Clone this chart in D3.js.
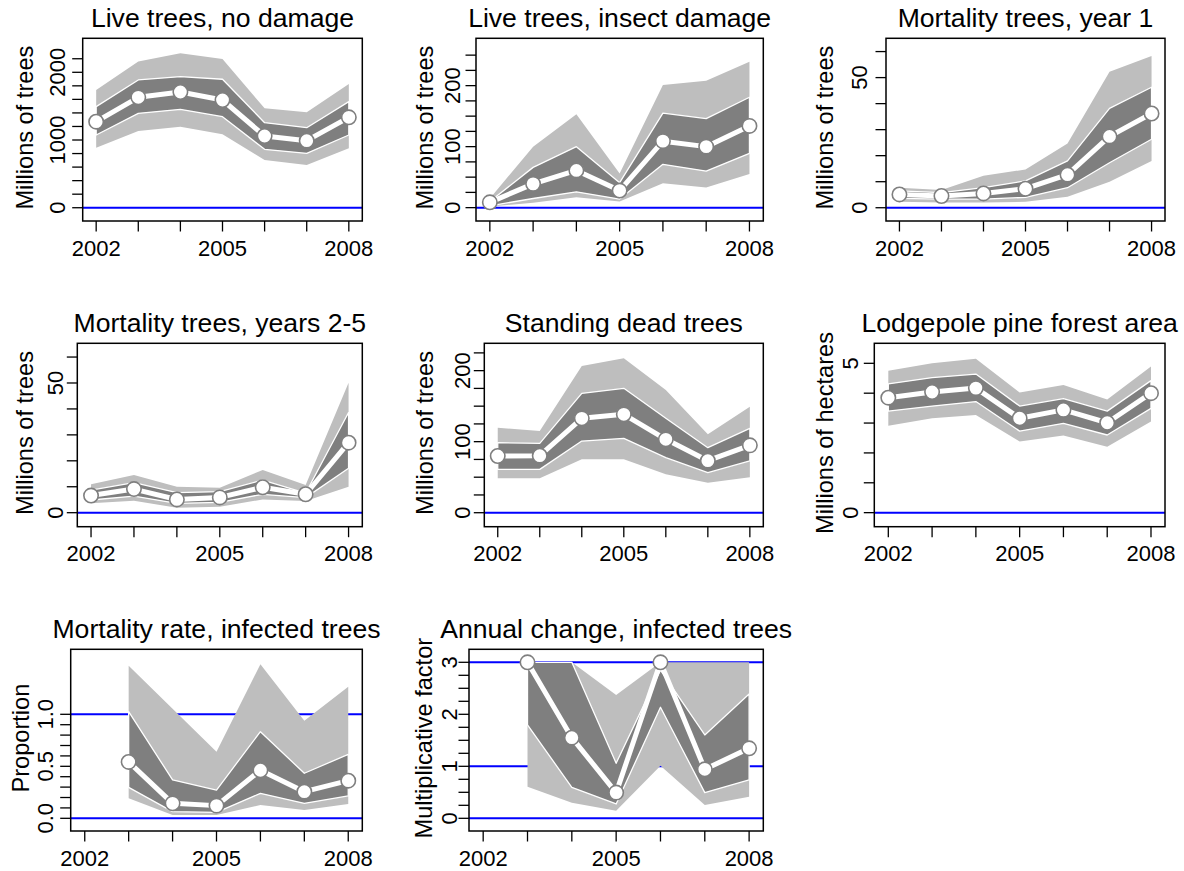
<!DOCTYPE html>
<html>

<head>
    <meta charset="utf-8">
    <script src="https://cdn.jsdelivr.net/npm/d3@7"></script>
    <style>
        body { margin: 0; background: #fff; }
        text { font-family: "Liberation Sans", Arial, Helvetica, sans-serif; fill: #000; }
    </style>
</head>

<body>
    <div id="viz"></div>

    <script>

        // years on the x axis
        var years = [2002, 2003, 2004, 2005, 2006, 2007, 2008];
        var yearLabels = [2002, 2005, 2008];

        // each row (one per year): [lower outer, lower inner, median, upper inner, upper outer]
        var liveNoDamage = [
            [887, 1074, 1271, 1493, 1739],
            [1133, 1394, 1630, 1887, 2158],
            [1197, 1453, 1709, 1936, 2281],
            [1084, 1345, 1591, 1897, 2197],
            [704, 862, 1059, 1256, 1468],
            [631, 803, 990, 1182, 1409],
            [877, 1074, 1335, 1567, 1828]
        ];
        var liveInsect = [
            [2, 3, 8.7, 10, 15],
            [8, 15, 39, 66, 100],
            [17, 26, 61, 100, 153],
            [10, 14, 28, 41, 56],
            [40, 71, 109, 155, 201],
            [33, 60, 100, 146, 208],
            [55, 89, 134, 181, 239]
        ];
        var mortYear1 = [
            [2.3, 3.6, 5.1, 6.5, 7.7],
            [2, 3.3, 4.5, 5.8, 6.8],
            [2, 3.3, 5.5, 7.7, 12.3],
            [2.3, 4, 7.3, 10.3, 14.7],
            [4.2, 7.7, 12.7, 18, 24.7],
            [10, 17.3, 27.4, 38.2, 52.2],
            [18, 26.3, 36.2, 46.3, 58.3]
        ];
        var mortYears25 = [
            [3.6, 4.9, 6.6, 8.7, 11],
            [4.6, 6.4, 9.1, 11.6, 14.5],
            [1.9, 3.6, 5.1, 7.7, 10],
            [2.3, 4, 5.9, 8.1, 9.6],
            [5.1, 7.1, 9.8, 12.6, 16.5],
            [4.5, 5.8, 7.1, 7.5, 10.7],
            [10, 17.1, 27, 38.6, 50.1]
        ];
        var standingDead = [
            [48.4, 61, 79.8, 98.6, 119.7],
            [48.4, 61, 80.3, 97.7, 115],
            [75.1, 100.9, 132.9, 168, 206.6],
            [75.1, 104.7, 138.5, 175.1, 217.4],
            [54, 77.5, 103.3, 132.9, 172.8],
            [42.3, 56.3, 73.2, 91.5, 110.3],
            [49.8, 72.8, 94.8, 118.8, 149.3]
        ];
        var forestArea = [
            [2.91, 3.40, 3.85, 4.31, 4.75],
            [3.16, 3.57, 4.04, 4.52, 5.0],
            [3.27, 3.72, 4.17, 4.64, 5.15],
            [2.38, 2.73, 3.16, 3.57, 4.02],
            [2.58, 2.99, 3.44, 3.82, 4.27],
            [2.21, 2.60, 3.01, 3.40, 3.79],
            [3.05, 3.49, 4.0, 4.42, 4.89]
        ];
        var mortRate = [
            null,
            [0.192, 0.298, 0.542, 1.026, 1.468],
            [0.032, 0.064, 0.144, 0.369, 1.054],
            [0.032, 0.058, 0.122, 0.272, 0.641],
            [0.128, 0.240, 0.462, 0.833, 1.481],
            [0.08, 0.144, 0.256, 0.433, 0.939],
            [0.138, 0.215, 0.362, 0.615, 1.266]
        ];
        var annualChange = [
            null,
            [0.609, 1.795, 3.0, 3.0, 3.0],
            [0.301, 0.596, 1.551, 3.0, 3.0],
            [0.147, 0.276, 0.494, 1.058, 2.372],
            [1.013, 2.135, 3.0, 2.85, 3.0],
            [0.256, 0.494, 0.942, 1.603, 3.0],
            [0.417, 0.737, 1.346, 2.391, 3.0]
        ];

        var titles = ["Live trees, no damage", "Live trees, insect damage", "Mortality trees, year 1",
            "Mortality trees, years 2-5", "Standing dead trees", "Lodgepole pine forest area",
            "Mortality rate, infected trees", "Annual change, infected trees"];
        var yTitles = ["Millions of trees", "Millions of trees", "Millions of trees",
            "Millions of trees", "Millions of trees", "Millions of hectares",
            "Proportion", "Multiplicative factor"];

        // y tick marks and the ones that carry labels
        var yTicks = [d3.range(0, 2201, 200), d3.range(0, 251, 25), d3.range(0, 61, 10),
            d3.range(0, 61, 10), d3.range(0, 226, 25), d3.range(0, 6, 1),
            d3.range(0, 11).map(d => d / 10), d3.range(0, 13).map(d => d / 4)];
        var yTickLabels = [[0, 1000, 2000], [0, 100, 200], [0, 50], [0, 50], [0, 100, 200], [0, 5],
            ["0.0", "0.5", "1.0"], [0, 1, 2, 3]];
        var refLines = [[0], [0], [0], [0], [0], [0], [0, 1], [0, 1, 3]];

        var series = [liveNoDamage, liveInsect, mortYear1, mortYears25, standingDead, forestArea, mortRate, annualChange];

        // panel geometry (pixels) and y extents
        var rowTop = [38.3, 343.3, 649.3], rowBottom = [221, 526.7, 831];
        var layout = [
            { left: 82.7, right: 362.3, row: 0, tickOff: 17.7, labOff: 49.4, ydom: [-196, 2502] },
            { left: 476, right: 763.3, row: 0, tickOff: 16, labOff: 42.7, ydom: [-21.9, 277.6] },
            { left: 886, right: 1165, row: 0, tickOff: 18.7, labOff: 52.7, ydom: [-5.1, 65.1] },
            { left: 77.3, right: 362.3, row: 1, tickOff: 14.6, labOff: 44, ydom: [-5.4, 65.3] },
            { left: 484.3, right: 763.3, row: 1, tickOff: 14.3, labOff: 51, ydom: [-19.7, 238.5] },
            { left: 874.3, right: 1165, row: 1, tickOff: 16, labOff: 41, ydom: [-0.47, 5.67] },
            { left: 70.7, right: 362.3, row: 2, tickOff: 17.4, labOff: 41.3, ydom: [-0.122, 1.625] },
            { left: 469, right: 763.3, row: 2, tickOff: 12.3, labOff: 37.3, ydom: [-0.244, 3.25] }
        ];

        var svg = d3.select("#viz")
            .append("svg")
            .attr("width", 1184)
            .attr("height", 871);

        var tickLen = 10.5;

        layout.forEach(function (p, i) {
            var top = rowTop[p.row], bottom = rowBottom[p.row];
            var x = d3.scaleLinear().domain([2001.68, 2008.32]).range([p.left, p.right]);
            var y = d3.scaleLinear().domain(p.ydom).range([bottom, top]);
            var g = svg.append("g");

            var rows = series[i].map(function (r, j) { return r ? { year: years[j], v: r } : null; })
                .filter(function (d) { return d; });

            // reference lines
            refLines[i].forEach(function (v) {
                g.append("line")
                    .attr("x1", p.left).attr("x2", p.right)
                    .attr("y1", y(v)).attr("y2", y(v))
                    .attr("stroke", "#0000ff").attr("stroke-width", 2);
            });

            var outer = d3.area().x(d => x(d.year)).y0(d => y(d.v[0])).y1(d => y(d.v[4]));
            var inner = d3.area().x(d => x(d.year)).y0(d => y(d.v[1])).y1(d => y(d.v[3]));
            var mid = d3.line().x(d => x(d.year)).y(d => y(d.v[2]));

            g.append("path").attr("d", outer(rows)).attr("fill", "#bebebe");
            g.append("path").attr("d", inner(rows)).attr("fill", "#7f7f7f")
                .attr("stroke", "#fff").attr("stroke-width", 1.3).attr("stroke-linejoin", "round");
            g.append("path").attr("d", mid(rows)).attr("fill", "none")
                .attr("stroke", "#fff").attr("stroke-width", 5).attr("stroke-linejoin", "round");
            g.selectAll("circle").data(rows).enter().append("circle")
                .attr("cx", d => x(d.year)).attr("cy", d => y(d.v[2]))
                .attr("r", 7.2).attr("fill", "#fff")
                .attr("stroke", "#7f7f7f").attr("stroke-width", 1.6);

            // box
            g.append("rect")
                .attr("x", p.left).attr("y", top)
                .attr("width", p.right - p.left).attr("height", bottom - top)
                .attr("fill", "none").attr("stroke", "#000").attr("stroke-width", 1.5);

            // x axis
            years.forEach(function (yr) {
                g.append("line").attr("x1", x(yr)).attr("x2", x(yr))
                    .attr("y1", bottom).attr("y2", bottom + tickLen)
                    .attr("stroke", "#000").attr("stroke-width", 1.3);
            });
            yearLabels.forEach(function (yr) {
                g.append("text").attr("x", x(yr)).attr("y", bottom + 34.7)
                    .attr("text-anchor", "middle").style("font-size", "22px").text(yr);
            });

            // y axis
            yTicks[i].forEach(function (v) {
                g.append("line").attr("x1", p.left - tickLen).attr("x2", p.left)
                    .attr("y1", y(v)).attr("y2", y(v))
                    .attr("stroke", "#000").attr("stroke-width", 1.3);
            });
            yTickLabels[i].forEach(function (lab) {
                g.append("text")
                    .attr("transform", "translate(" + (p.left - p.tickOff) + "," + y(+lab) + ") rotate(-90)")
                    .attr("text-anchor", "middle").style("font-size", "22px").text(lab);
            });

            // titles
            g.append("text")
                .attr("x", (p.left + p.right) / 2).attr("y", top - 11.5)
                .attr("text-anchor", "middle").style("font-size", "26.6px").text(titles[i]);
            g.append("text")
                .attr("transform", "translate(" + (p.left - p.labOff) + "," + ((top + bottom) / 2 - 2) + ") rotate(-90)")
                .attr("text-anchor", "middle").style("font-size", "23.6px").text(yTitles[i]);
        });

    </script>
</body>

</html>
